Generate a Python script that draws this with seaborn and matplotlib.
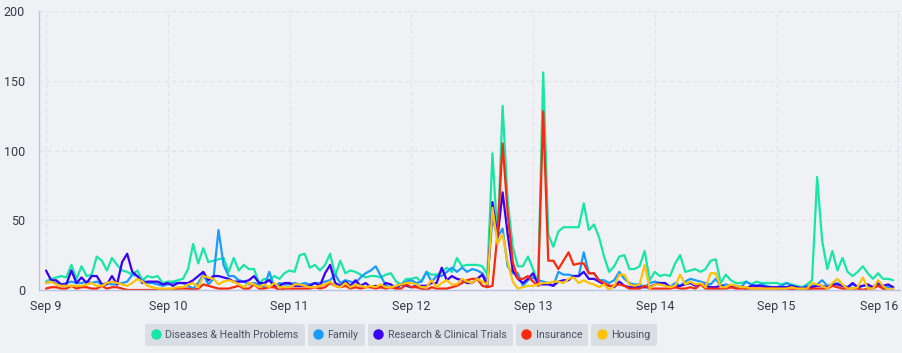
import pandas as pd
import matplotlib.pyplot as plt
import seaborn as sns
from matplotlib.lines import Line2D

# hourly mentions, Sep 9 00:00 .. Sep 15 23:00 (one row of 24 per day)
diseases = [
    6, 8, 9, 10, 9, 18, 8, 17, 10, 11, 24, 21, 14, 23, 18, 14, 13, 11, 14, 7, 10, 9, 10, 5,
    6, 6, 7, 8, 15, 33, 19, 30, 20, 21, 22, 23, 13, 23, 14, 18, 15, 15, 5, 8, 7, 10, 8, 12,
    14, 13, 25, 26, 16, 18, 14, 18, 26, 10, 21, 12, 14, 13, 11, 9, 10, 10, 9, 11, 12, 6, 4, 8,
    8, 9, 6, 13, 11, 11, 13, 16, 13, 23, 17, 18, 18, 18, 17, 11, 98, 36, 132, 64, 31, 17, 17, 24,
    15, 5, 156, 40, 31, 42, 45, 45, 45, 45, 62, 43, 47, 38, 24, 13, 17, 24, 25, 15, 15, 17, 28, 7,
    13, 10, 11, 10, 19, 25, 13, 14, 15, 13, 15, 21, 22, 5, 11, 7, 5, 5, 6, 4, 6, 5, 5, 5,
    5, 4, 5, 4, 3, 2, 4, 7, 81, 35, 15, 28, 14, 23, 13, 10, 13, 17, 12, 8, 12, 8, 8, 7,
]
family = [
    5, 6, 5, 4, 5, 6, 5, 5, 6, 5, 6, 4, 5, 4, 4, 5, 6, 11, 10, 7, 5, 5, 4, 3,
    4, 5, 5, 5, 3, 1, 5, 11, 4, 8, 43, 18, 10, 10, 7, 6, 4, 5, 4, 2, 13, 2, 5, 4,
    4, 5, 4, 5, 4, 5, 5, 6, 7, 11, 5, 7, 6, 5, 9, 12, 14, 17, 10, 3, 2, 3, 4, 6,
    7, 5, 6, 13, 6, 10, 10, 13, 16, 13, 16, 13, 15, 14, 12, 6, 52, 38, 44, 17, 12, 12, 3, 7,
    9, 7, 6, 5, 3, 13, 11, 11, 10, 10, 27, 12, 12, 7, 7, 5, 7, 13, 8, 5, 4, 4, 2, 5,
    6, 5, 5, 2, 5, 3, 6, 8, 7, 6, 5, 4, 8, 3, 4, 3, 2, 2, 6, 4, 3, 4, 3, 2,
    2, 3, 5, 3, 2, 2, 3, 3, 4, 7, 3, 4, 5, 3, 2, 4, 2, 3, 3, 2, 4, 3, 2, 2,
]
research = [
    14, 7, 7, 4, 4, 14, 5, 9, 5, 10, 10, 4, 4, 10, 4, 20, 26, 13, 10, 5, 6, 6, 6, 4,
    5, 3, 5, 5, 5, 7, 10, 13, 7, 10, 10, 9, 8, 6, 6, 6, 7, 10, 5, 5, 7, 3, 3, 5,
    5, 3, 3, 3, 3, 5, 3, 12, 18, 5, 3, 6, 3, 7, 3, 5, 2, 3, 2, 5, 4, 1, 4, 3,
    2, 3, 3, 3, 5, 5, 16, 7, 10, 8, 7, 5, 5, 8, 11, 3, 63, 38, 70, 40, 14, 8, 5, 8,
    12, 4, 4, 4, 3, 6, 7, 7, 10, 10, 13, 8, 8, 6, 4, 3, 2, 6, 3, 2, 2, 2, 2, 2,
    4, 5, 5, 2, 2, 3, 4, 5, 3, 4, 3, 2, 2, 3, 2, 2, 3, 2, 1, 3, 3, 3, 2, 2,
    2, 2, 2, 3, 2, 1, 2, 2, 3, 3, 2, 4, 4, 3, 2, 5, 2, 3, 4, 2, 5, 3, 4, 2,
]
insurance = [
    1, 2, 2, 1, 1, 3, 1, 2, 2, 1, 1, 3, 1, 2, 2, 1, 0, 0, 0, 0, 0, 0, 0, 0,
    0, 0, 1, 1, 1, 0, 1, 4, 3, 2, 1, 1, 1, 2, 3, 1, 1, 4, 1, 1, 2, 2, 0, 1,
    1, 1, 1, 1, 1, 2, 1, 2, 5, 3, 2, 3, 1, 2, 1, 2, 2, 1, 2, 1, 2, 1, 1, 4,
    2, 2, 1, 0, 2, 1, 1, 1, 2, 3, 5, 7, 8, 8, 3, 2, 3, 40, 105, 55, 20, 8, 8, 10,
    6, 3, 128, 21, 21, 15, 21, 27, 18, 19, 19, 12, 12, 7, 5, 3, 3, 4, 3, 1, 1, 1, 3, 1,
    1, 1, 1, 1, 2, 1, 1, 2, 1, 4, 1, 1, 1, 1, 1, 2, 1, 1, 1, 1, 1, 1, 1, 1,
    1, 0, 1, 0, 1, 0, 0, 1, 1, 1, 1, 3, 2, 1, 1, 1, 1, 0, 1, 1, 3, 1, 0, 0,
]
housing = [
    5, 6, 4, 3, 3, 3, 3, 3, 4, 5, 3, 3, 5, 6, 5, 4, 3, 5, 8, 6, 3, 2, 1, 1,
    1, 1, 2, 2, 4, 5, 2, 10, 9, 8, 4, 6, 7, 6, 4, 2, 5, 4, 2, 4, 2, 5, 2, 2,
    2, 4, 4, 3, 2, 2, 3, 4, 6, 3, 2, 5, 2, 4, 3, 2, 3, 2, 4, 2, 2, 3, 4, 5,
    5, 4, 2, 2, 7, 2, 5, 7, 4, 4, 8, 6, 5, 8, 6, 4, 59, 33, 40, 20, 6, 1, 2, 3,
    3, 4, 5, 5, 6, 6, 5, 8, 9, 5, 7, 5, 4, 2, 4, 0, 3, 11, 11, 4, 3, 4, 18, 1,
    4, 4, 3, 2, 3, 11, 4, 6, 4, 5, 2, 12, 12, 2, 2, 4, 3, 2, 2, 1, 1, 1, 1, 1,
    1, 1, 1, 2, 1, 1, 1, 5, 4, 3, 1, 5, 8, 4, 1, 1, 2, 9, 1, 1, 7, 3, 0, 1,
]

categories = ["Diseases & Health Problems", "Family", "Research & Clinical Trials",
              "Insurance", "Housing"]
colors = ["#17e6a6", "#1a9bfc", "#3a00f5", "#fb2a0c", "#fec107"]
day_labels = ["Sep 9", "Sep 10", "Sep 11", "Sep 12", "Sep 13", "Sep 14", "Sep 15", "Sep 16"]

times = pd.date_range("2023-09-09 00:00", periods=len(diseases), freq="h")
df = pd.concat([
    pd.DataFrame({"time": times, "count": vals, "topic": name})
    for name, vals in zip(categories, [diseases, family, research, insurance, housing])
])

sns.set_theme(style="white")
plt.rcParams["font.family"] = ["Roboto", "DejaVu Sans"]

bg = "#eff1f4"
axis_col = "#b9c3e3"
text_col = "#333a48"

fig = plt.figure(figsize=(9.03, 3.53), dpi=100, facecolor=bg)
ax = fig.add_axes([39 / 903, 1 - 290 / 353, 861 / 903, 279 / 353])
ax.set_facecolor(bg)

sns.lineplot(data=df, x="time", y="count", hue="topic", hue_order=categories,
             palette=dict(zip(categories, colors)), linewidth=1.6, legend=False, ax=ax)

day_ticks = pd.date_range("2023-09-09", periods=8, freq="D")
ax.set_xlim(day_ticks[0] - pd.Timedelta(minutes=83), day_ticks[-1] + pd.Timedelta(minutes=20))
ax.set_ylim(0, 200)
ax.set_xticks(day_ticks)
ax.set_xticklabels(day_labels)
ax.set_yticks([0, 50, 100, 150, 200])
ax.set_xlabel("")
ax.set_ylabel("")

ax.grid(True, color="#dde1ea", linestyle=(0, (4, 3)), linewidth=0.8)
ax.set_axisbelow(True)
for side in ["top", "right"]:
    ax.spines[side].set_visible(False)
for side in ["left", "bottom"]:
    ax.spines[side].set_color(axis_col)
    ax.spines[side].set_linewidth(1.0)

ax.tick_params(axis="x", length=5, color=axis_col, width=1, labelsize=9, labelcolor=text_col, pad=2)
ax.tick_params(axis="y", length=0, labelsize=9, labelcolor=text_col, pad=10)
ax.get_xticklabels()[-1].set_horizontalalignment("right")

# separate boxed legend chips along the bottom, laid out left to right
legends = []
for name, col in zip(categories, colors):
    handle = Line2D([], [], marker="o", linestyle="none", color=col, markersize=6.5)
    leg = fig.legend([handle], [name], loc="center left", bbox_to_anchor=(0, 1 - 335 / 353),
                     frameon=True, fancybox=True, fontsize=7.7, handlelength=0.75,
                     handletextpad=0.5, borderpad=0.6, borderaxespad=0)
    frame = leg.get_frame()
    frame.set_facecolor("#d9dde4")
    frame.set_edgecolor("none")
    frame.set_alpha(1)
    for t in leg.get_texts():
        t.set_color("#4b5163")
    legends.append(leg)

renderer = fig.canvas.get_renderer()
widths = [leg.get_window_extent(renderer).width for leg in legends]
gap = 3
x0 = 401 - (sum(widths) + gap * (len(widths) - 1)) / 2
for leg, w in zip(legends, widths):
    leg.set_bbox_to_anchor((x0 / 903, 1 - 335 / 353), transform=fig.transFigure)
    x0 += w + gap

fig.savefig("out.png", dpi=100, facecolor=bg)
